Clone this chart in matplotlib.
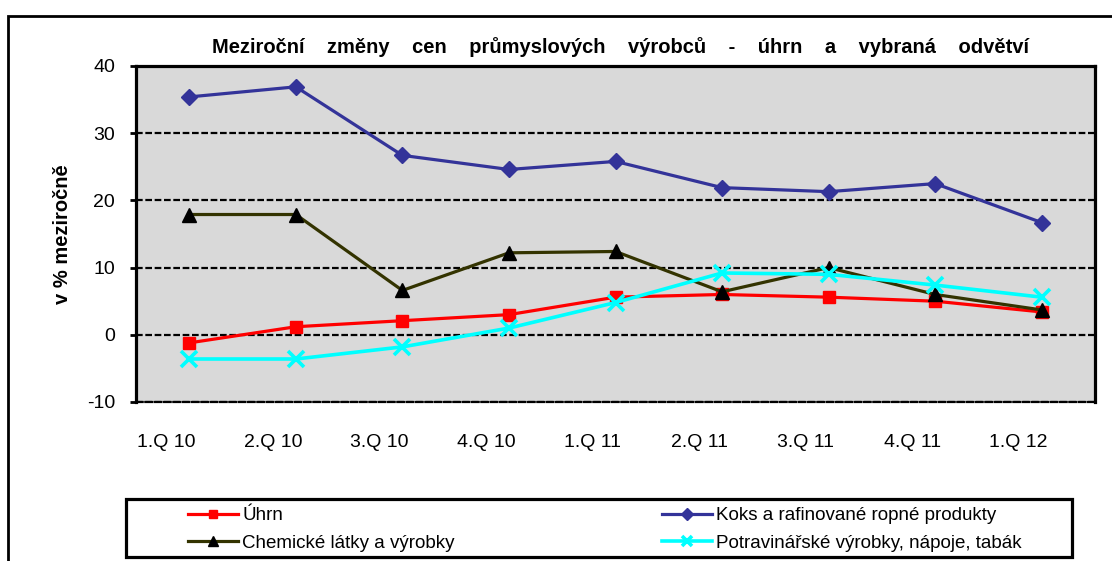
import matplotlib
matplotlib.use('Agg')
import matplotlib.pyplot as plt
import matplotlib.transforms as mtransforms
from matplotlib.patches import Rectangle

# data
quarters = ['1.Q 10', '2.Q 10', '3.Q 10', '4.Q 10', '1.Q 11',
            '2.Q 11', '3.Q 11', '4.Q 11', '1.Q 12']
uhrn = [-1.2, 1.2, 2.1, 3.0, 5.6, 6.0, 5.6, 5.0, 3.4]
koks = [35.4, 36.9, 26.7, 24.6, 25.8, 21.9, 21.3, 22.5, 16.7]
chem = [17.9, 17.9, 6.6, 12.2, 12.4, 6.4, 10.0, 6.0, 3.7]
potr = [-3.6, -3.6, -1.8, 1.0, 4.8, 9.2, 9.0, 7.4, 5.6]
yticks = [-10, 0, 10, 20, 30, 40]

plt.rcParams['font.family'] = ['Liberation Sans', 'DejaVu Sans']
plt.rcParams['axes.unicode_minus'] = False

W, H = 1112, 561
fig = plt.figure(figsize=(W / 100, H / 100), dpi=100)
ax = fig.add_axes([136 / W, 1 - 402 / H, (1095 - 136) / W, (402 - 66) / H])
ax.set_facecolor('#d9d9d9')

x = range(len(quarters))
l1, = ax.plot(x, uhrn, color='#ff0000', lw=2.3, marker='s', ms=8.5, label='Úhrn')
l2, = ax.plot(x, koks, color='#333399', lw=2.3, marker='D', ms=8.5,
              label='Koks a rafinované ropné produkty')
l3, = ax.plot(x, chem, color='#333300', lw=2.3, marker='^', ms=10, mfc='black', mec='black',
              label='Chemické látky a výrobky')
l4, = ax.plot(x, potr, color='#00ffff', lw=2.6, marker='x', ms=11, mew=2.6,
              label='Potravinářské výrobky, nápoje, tabák')

ax.set_xlim(-0.5, len(quarters) - 0.5)
ax.set_ylim(-10, 40)
ax.set_yticks(yticks)
ax.set_xticks(list(x))
ax.set_xticklabels(quarters)
ax.tick_params(axis='x', length=0, pad=23, labelsize=14)
ax.tick_params(axis='y', length=4.5, width=2, direction='out', pad=10.5, labelsize=14)
# category labels sit a bit left of the points, as in the original
shift = mtransforms.ScaledTranslation(-23 / 100, 0, fig.dpi_scale_trans)
for lab in ax.get_xticklabels():
    lab.set_transform(lab.get_transform() + shift)
ax.yaxis.grid(True, color='black', linestyle=(0, (3, 1.2)), lw=1.6)
ax.set_axisbelow(True)
for side in ['left', 'top', 'right']:
    ax.spines[side].set_linewidth(2.3)
ax.spines['bottom'].set_linestyle((0, (3, 1.2)))
ax.spines['bottom'].set_linewidth(1.6)

ax.set_ylabel('v % meziročně', fontsize=14.5, fontweight='bold', labelpad=11)
fig.text(621 / W, 1 - 47 / H,
         'Meziroční    změny    cen    průmyslových    výrobců    -    úhrn    a    vybraná    odvětví',
         ha='center', va='center', fontsize=14.5, fontweight='bold')

# outer frame of the chart
fig.patches.append(Rectangle((8 / W, -0.05), 1.2, 1 - 16 / H + 0.05,
                             transform=fig.transFigure, fill=False, lw=2, ec='black'))
# legend frame
fig.patches.append(Rectangle((126 / W, 1 - 557 / H), (1072 - 126) / W, (557 - 499) / H,
                             transform=fig.transFigure, fill=False, lw=2.3, ec='black'))

leg_kw = dict(loc='upper left', fontsize=13.5, frameon=False, handlelength=2.65,
              handletextpad=0.25, borderpad=0, borderaxespad=0, labelspacing=0.55,
              markerscale=0.7)
leg1 = fig.legend([l1, l3], [l1.get_label(), l3.get_label()],
                  bbox_to_anchor=(188 / W, 1 - 507 / H), **leg_kw)
leg2 = fig.legend([l2, l4], [l2.get_label(), l4.get_label()],
                  bbox_to_anchor=(662 / W, 1 - 507 / H), **leg_kw)

fig.savefig('out.png', dpi=100)
